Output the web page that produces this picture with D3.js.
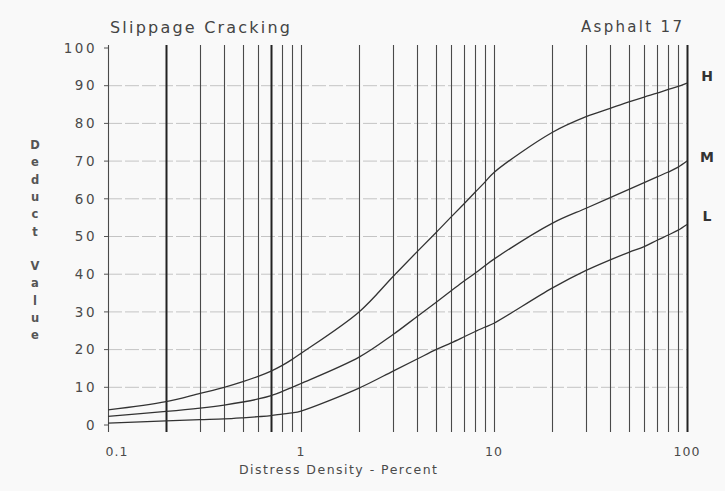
<!DOCTYPE html>
<html>
<head>
<meta charset="utf-8">
<script src="https://cdn.jsdelivr.net/npm/d3@7"></script>
<style>
  html, body { margin: 0; padding: 0; background: #f9f9f9; }
  svg { display: block; }
  text { font-family: "DejaVu Sans", "Liberation Sans", sans-serif; }
</style>
</head>
<body>
<svg id="chart" width="725" height="491"></svg>
<script>
// ---- data ----
const density = [0.1,0.2,0.3,0.4,0.5,0.6,0.7,0.8,0.9,1,2,3,4,5,6,7,8,9,10,20,30,40,50,60,70,80,90,100];
const highValues = [4,6.2,8.4,10,11.5,12.9,14.3,15.8,17.4,19,30,39.4,46,51,55.2,58.7,61.8,64.5,67,77.6,81.8,84,85.7,87,88,89,89.8,90.7];
const mediumValues = [2.3,3.6,4.5,5.3,6.1,6.9,7.8,8.9,10,11,18,24,28.8,32.5,35.6,38.2,40.3,42.3,44,53.5,57.5,60.3,62.5,64.3,65.8,67.1,68.4,70];
const lowValues = [0.5,1.1,1.4,1.6,1.9,2.2,2.5,2.9,3.2,3.7,9.8,14.3,17.5,20,21.8,23.4,24.8,26,27,36.3,41,43.8,45.8,47.3,49,50.4,51.7,53.2];
const seriesNames = ["H","M","L"];
const xTickLabels = ["0.1","1","10","100"];
const xTickValues = [0.1,1,10,100];
const yTickValues = [0,10,20,30,40,50,60,70,80,90,100];
const gridX = [0.1,0.2,0.3,0.4,0.5,0.6,0.7,0.8,0.9,1,2,3,4,5,6,7,8,9,10,20,30,40,50,60,70,80,90,100];
const heavyX = [0.2,0.7,100];
const titleText = "Slippage Cracking";
const subTitleText = "Asphalt 17";
const xAxisTitle = "Distress Density - Percent";
const yAxisTitle = "Deduct Value";

// ---- chart ----
const svg = d3.select("#chart");
const x = d3.scaleLog().domain([0.1, 100]).range([108, 687]);
const y = d3.scaleLinear().domain([0, 100]).range([425, 48]);

// horizontal grid
svg.append("g").selectAll("line")
  .data(yTickValues.filter(v => v > 0 && v < 100))
  .join("line")
  .attr("x1", x(0.1)).attr("x2", x(100))
  .attr("y1", d => y(d)).attr("y2", d => y(d))
  .attr("stroke", "#c4c4c4").attr("stroke-width", 1)
  .attr("stroke-dasharray", "14,3");

// vertical grid
svg.append("g").selectAll("line")
  .data(gridX)
  .join("line")
  .attr("x1", d => Math.round(x(d)) + 0.5).attr("x2", d => Math.round(x(d)) + 0.5)
  .attr("y1", y(100) - 3).attr("y2", y(0) + 7)
  .attr("stroke", d => heavyX.includes(d) ? "#222" : "#4a4a4a")
  .attr("stroke-width", d => heavyX.includes(d) ? 2 : 1.1);

// left axis ticks
svg.append("g").selectAll("line")
  .data(yTickValues)
  .join("line")
  .attr("x1", x(0.1) - 4).attr("x2", x(0.1))
  .attr("y1", d => y(d)).attr("y2", d => y(d))
  .attr("stroke", "#555").attr("stroke-width", 1);

// y tick labels
svg.append("g").selectAll("text")
  .data(yTickValues)
  .join("text")
  .attr("x", 97).attr("y", d => y(d))
  .attr("dy", "0.35em")
  .attr("text-anchor", "end")
  .attr("font-size", 13.5)
  .attr("letter-spacing", 2.5)
  .attr("fill", "#4a4a4a")
  .text(d => d);

// x tick labels
svg.append("g").selectAll("text")
  .data(xTickValues)
  .join("text")
  .attr("x", (d, i) => x(d) + (i === 0 ? 9 : 0))
  .attr("y", 452).attr("dy", "0.35em")
  .attr("text-anchor", "middle")
  .attr("font-size", 12.5)
  .attr("letter-spacing", 1)
  .attr("fill", "#4a4a4a")
  .text((d, i) => xTickLabels[i]);

// x axis title
svg.append("text")
  .attr("x", 338).attr("y", 470).attr("dy", "0.35em")
  .attr("text-anchor", "middle")
  .attr("font-size", 12.5)
  .attr("textLength", 198).attr("lengthAdjust", "spacing")
  .attr("fill", "#4a4a4a")
  .text(xAxisTitle);

// y axis title, stacked letters
const yLetters = yAxisTitle.split("");
svg.append("g").selectAll("text")
  .data(yLetters)
  .join("text")
  .attr("x", 35).attr("y", (d, i) => 145 + i * 17.3)
  .attr("dy", "0.35em")
  .attr("text-anchor", "middle")
  .attr("font-size", 11.5)
  .attr("font-weight", "bold")
  .attr("fill", "#555")
  .text(d => d);

// titles
svg.append("text")
  .attr("x", 110).attr("y", 27).attr("dy", "0.35em")
  .attr("font-size", 16)
  .attr("textLength", 180).attr("lengthAdjust", "spacing")
  .attr("fill", "#444")
  .text(titleText);
svg.append("text")
  .attr("x", 581).attr("y", 27).attr("dy", "0.35em")
  .attr("font-size", 15)
  .attr("textLength", 101).attr("lengthAdjust", "spacing")
  .attr("fill", "#444")
  .text(subTitleText);

// curves
const seriesValues = [highValues, mediumValues, lowValues];
const line = d3.line()
  .x(d => x(d[0]))
  .y(d => y(d[1]))
  .curve(d3.curveCatmullRom.alpha(0.5));
svg.append("g").selectAll("path")
  .data(seriesValues)
  .join("path")
  .attr("d", vals => line(density.map((dv, i) => [dv, vals[i]])))
  .attr("fill", "none")
  .attr("stroke", "#333")
  .attr("stroke-width", 1.3);

// series labels
svg.append("g").selectAll("text")
  .data(seriesValues)
  .join("text")
  .attr("x", 707)
  .attr("y", (vals, i) => y(vals[vals.length - 1]) + [-7, -4, -8][i])
  .attr("dy", "0.35em")
  .attr("text-anchor", "middle")
  .attr("font-size", 14)
  .attr("font-weight", "bold")
  .attr("fill", "#333")
  .text((d, i) => seriesNames[i]);
</script>
</body>
</html>
